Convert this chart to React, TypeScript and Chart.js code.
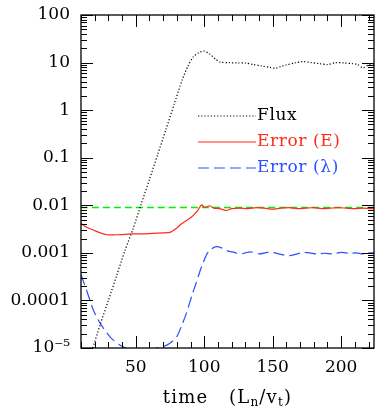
import React, { useEffect, useRef } from "react";
import { Chart, registerables } from "chart.js";

Chart.register(...registerables);

// ---- data ----
const fluxTime = [18, 24, 30, 36, 42, 48, 54, 60, 66, 72, 78, 84, 88, 92, 96, 100, 104, 108, 112, 118, 124, 130, 136, 142, 148, 152, 156, 160, 166, 172, 178, 184, 190, 196, 202, 208, 212, 216, 220, 224];
const fluxValue = [8.7e-6, 3.1e-5, 1.0e-4, 3.3e-4, 1.1e-3, 3.2e-3, 0.0107, 0.035, 0.117, 0.39, 1.32, 4.4, 8.3, 13.2, 16.2, 17.4, 15.1, 12.0, 10.2, 10.0, 9.8, 9.8, 9.1, 8.5, 7.9, 7.6, 8.3, 8.9, 9.8, 10.5, 10.0, 9.5, 9.1, 10.0, 9.8, 9.5, 9.1, 7.8, 8.9, 9.3];

const errorETime = [10, 14, 19, 24, 29, 35, 42, 48, 55, 62, 70, 75, 79, 83, 87, 91, 95, 98, 100, 102, 104, 107, 111, 116, 120, 126, 132, 138, 144, 150, 156, 162, 168, 174, 180, 186, 192, 198, 204, 210, 216, 222, 224];
const errorEValue = [0.00417, 0.00347, 0.00302, 0.00263, 0.0024, 0.0024, 0.00245, 0.00251, 0.00251, 0.00257, 0.00263, 0.00269, 0.00316, 0.00398, 0.00479, 0.00575, 0.00759, 0.0102, 0.00912, 0.00933, 0.00977, 0.00871, 0.00851, 0.00776, 0.00851, 0.00871, 0.00851, 0.00891, 0.00871, 0.00832, 0.00871, 0.00891, 0.00851, 0.00871, 0.00891, 0.00851, 0.00871, 0.00891, 0.00871, 0.00851, 0.00871, 0.00851, 0.00871];

const errorLTime = [10, 14, 19, 24, 31, 38, 45, 52, 58, 65, 70, 75, 80, 84, 87, 91, 94, 97, 99, 102, 105, 109, 113, 117, 122, 126, 130, 134, 140, 146, 150, 156, 162, 168, 172, 177, 182, 188, 194, 200, 206, 211, 216, 220, 224];
const errorLValue = [3.47e-4, 1.66e-4, 6.3e-5, 3.3e-5, 1.74e-5, 1.17e-5, 9.3e-6, 8.3e-6, 8.3e-6, 1.0e-5, 1.07e-5, 1.26e-5, 1.74e-5, 3.2e-5, 5.4e-5, 1.26e-4, 2.3e-4, 4.2e-4, 6.0e-4, 9.5e-4, 1.2e-3, 1.35e-3, 1.26e-3, 1.1e-3, 1.02e-3, 9.5e-4, 1.0e-3, 1.05e-3, 9.5e-4, 1.02e-3, 1.02e-3, 9.3e-4, 8.7e-4, 9.5e-4, 1.02e-3, 1.0e-3, 9.5e-4, 9.8e-4, 9.5e-4, 1.02e-3, 9.8e-4, 1.0e-3, 9.5e-4, 1.0e-3, 1.0e-3];

const thresholdTime = [10, 224];
const thresholdValue = [0.009, 0.009];

const seriesLabels = ["Flux", "Error (E)", "Error (\u03bb)"];

const xMin = 10;
const xMax = 224;
const xTickValues = [10, 20, 30, 40, 50, 60, 70, 80, 90, 100, 110, 120, 130, 140, 150, 160, 170, 180, 190, 200, 210, 220];
const xLabeledTicks = [50, 100, 150, 200];

const yTickValues = [1e-5, 1e-4, 1e-3, 1e-2, 1e-1, 1, 10, 100];
const yTickLabels = ["10\u207b\u2075", "0.0001", "0.001", "0.01", "0.1", "1", "10", "100"];

const FONT = "DejaVu Serif";

function pts(xs: number[], ys: number[]) {
  return xs.map((x, i) => ({ x, y: ys[i] }));
}

const framePlugin = {
  id: "frameTicks",
  afterDraw(chart: any) {
    const { ctx, chartArea: a, scales } = chart;
    const xs = scales.x;
    const ys = scales.y;
    ctx.save();
    ctx.strokeStyle = "#000";
    ctx.lineWidth = 1;
    // y ticks (major decades, minor 2..9)
    for (let i = 0; i < yTickValues.length; i++) {
      const dec = yTickValues[i];
      for (let m = 1; m <= 9; m++) {
        const v = dec * m;
        const py = Math.round(ys.getPixelForValue(v)) + 0.5;
        const len = m === 1 ? 12 : 6;
        ctx.beginPath();
        ctx.moveTo(a.left, py);
        ctx.lineTo(a.left + len, py);
        ctx.moveTo(a.right, py);
        ctx.lineTo(a.right - len, py);
        ctx.stroke();
        if (i === yTickValues.length - 1) break;
      }
    }
    // x ticks
    for (const v of xTickValues) {
      const px = Math.round(xs.getPixelForValue(v)) + 0.5;
      const len = xLabeledTicks.includes(v) ? 12 : 6;
      ctx.beginPath();
      ctx.moveTo(px, a.bottom);
      ctx.lineTo(px, a.bottom - len);
      ctx.moveTo(px, a.top);
      ctx.lineTo(px, a.top + len);
      ctx.stroke();
    }
    // frame
    ctx.lineWidth = 1.3;
    ctx.strokeRect(a.left, a.top, a.right - a.left, a.bottom - a.top);

    // legend
    const lx0 = a.left + 117;
    const lx1 = a.left + 175;
    let ly = a.top + 101;
    chart.data.datasets.forEach((ds: any) => {
      if (!ds.label || !seriesLabels.includes(ds.label)) return;
      ctx.save();
      ctx.strokeStyle = ds.borderColor;
      ctx.lineWidth = ds.borderWidth;
      ctx.setLineDash(ds.borderDash || []);
      ctx.beginPath();
      ctx.moveTo(lx0, ly);
      ctx.lineTo(lx1, ly);
      ctx.stroke();
      ctx.restore();
      ctx.save();
      ctx.fillStyle = ds.textColor;
      ctx.font = `17px "${FONT}"`;
      (ctx as any).letterSpacing = "0.6px";
      ctx.textBaseline = "middle";
      ctx.textAlign = "left";
      ctx.fillText(ds.label, lx1 + 1, ly);
      ctx.restore();
      ly += 26;
    });

    // x-axis title with subscripts
    const parts = [
      { t: "time", sub: false },
      { t: "   ", sub: false },
      { t: "(L", sub: false },
      { t: "n", sub: true },
      { t: "/v", sub: false },
      { t: "t", sub: true },
      { t: ")", sub: false },
    ];
    const mainFont = `18px "${FONT}"`;
    const subFont = `12px "${FONT}"`;
    (ctx as any).letterSpacing = "1.2px";
    let total = 0;
    const widths = parts.map((p) => {
      ctx.font = p.sub ? subFont : mainFont;
      const w = ctx.measureText(p.t).width;
      total += w;
      return w;
    });
    let tx = (a.left + a.right) / 2 - total / 2;
    const ty = a.bottom + 50;
    ctx.fillStyle = "#000";
    ctx.textBaseline = "middle";
    ctx.textAlign = "left";
    parts.forEach((p, i) => {
      ctx.font = p.sub ? subFont : mainFont;
      ctx.fillText(p.t, tx, p.sub ? ty + 5 : ty);
      tx += widths[i];
    });
    ctx.restore();
  },
};

export default function App() {
  const ref = useRef<HTMLCanvasElement | null>(null);

  useEffect(() => {
    document.body.style.margin = "0";
    const canvas = ref.current;
    if (!canvas) return;
    const chart = new Chart(canvas, {
      type: "line",
      data: {
        datasets: [
          {
            label: seriesLabels[0],
            data: pts(fluxTime, fluxValue),
            borderColor: "#000000",
            borderWidth: 1.2,
            borderDash: [1.2, 2],
            textColor: "#000000",
          } as any,
          {
            label: seriesLabels[1],
            data: pts(errorETime, errorEValue),
            borderColor: "#ff2a1a",
            borderWidth: 1.2,
            borderDash: [],
            textColor: "#ff2a1a",
          } as any,
          {
            label: seriesLabels[2],
            data: pts(errorLTime, errorLValue),
            borderColor: "#2a50ff",
            borderWidth: 1.2,
            borderDash: [11, 5],
            textColor: "#2a50ff",
          } as any,
          {
            label: "threshold",
            data: pts(thresholdTime, thresholdValue),
            borderColor: "#00ee00",
            borderWidth: 1.6,
            borderDash: [7, 4],
          } as any,
        ],
      },
      options: {
        animation: false,
        responsive: false,
        maintainAspectRatio: false,
        parsing: false as any,
        layout: { padding: { left: 0, right: 12, top: 15, bottom: 0 } },
        elements: {
          point: { radius: 0 },
          line: { tension: 0.25, fill: false },
        },
        plugins: {
          legend: { display: false },
          tooltip: { enabled: false },
          title: { display: false },
        },
        scales: {
          x: {
            type: "linear",
            min: xMin,
            max: xMax,
            afterFit: (s: any) => {
              s.height = 67;
              s.paddingLeft = 0;
              s.paddingRight = 0;
            },
            afterBuildTicks: (s: any) => {
              s.ticks = xTickValues.map((v) => ({ value: v }));
            },
            grid: { display: false, drawTicks: false },
            border: { display: false },
            ticks: {
              autoSkip: false,
              maxRotation: 0,
              padding: 9,
              color: "#000",
              font: { family: FONT, size: 17 },
              callback: (v: any) => (xLabeledTicks.includes(Number(v)) ? String(v) : ""),
            },
          },
          y: {
            type: "logarithmic",
            min: yTickValues[0],
            max: yTickValues[yTickValues.length - 1],
            afterFit: (s: any) => {
              s.width = 81;
              s.paddingTop = 0;
              s.paddingBottom = 0;
            },
            afterBuildTicks: (s: any) => {
              s.ticks = yTickValues.map((v) => ({ value: v }));
            },
            grid: { display: false, drawTicks: false },
            border: { display: false },
            ticks: {
              autoSkip: false,
              padding: 11,
              color: "#000",
              font: { family: FONT, size: 17 },
              callback: (v: any) => {
                const i = yTickValues.findIndex((t) => Math.abs(Math.log10(t) - Math.log10(Number(v))) < 1e-6);
                return i >= 0 ? yTickLabels[i] : "";
              },
            },
          },
        },
      },
      plugins: [framePlugin],
    });
    return () => chart.destroy();
  }, []);

  return (
    <div style={{ width: 386, height: 415, background: "#fff" }}>
      <canvas ref={ref} width={386} height={415} style={{ display: "block" }} />
    </div>
  );
}
